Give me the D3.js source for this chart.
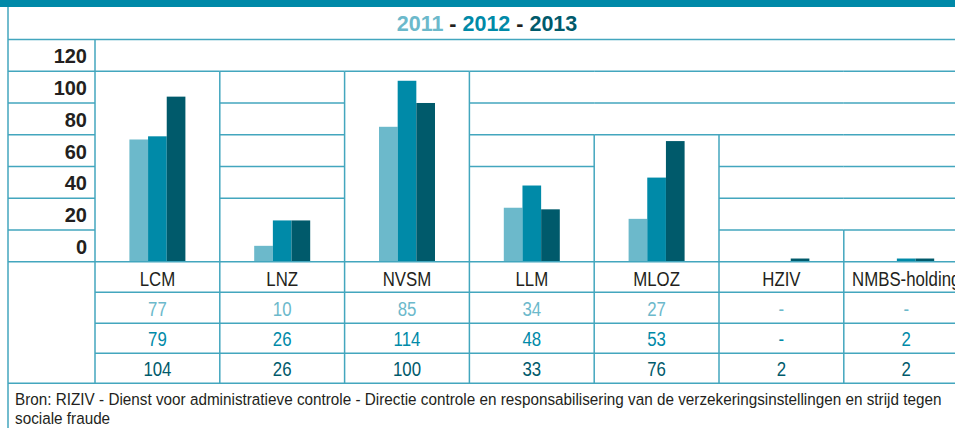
<!DOCTYPE html>
<html>
<head>
<meta charset="utf-8">
<script src="https://cdn.jsdelivr.net/npm/d3@7"></script>
<style>
  html, body { margin: 0; padding: 0; background: #fff; }
  svg { display: block; }
  text { font-family: "Liberation Sans", Arial, sans-serif; }
  .bold { font-weight: bold; }
</style>
</head>
<body>
<svg id="chart" width="955" height="428"></svg>
<script>
// data
const categories = ["LCM", "LNZ", "NVSM", "LLM", "MLOZ", "HZIV", "NMBS-holding"];
const years = ["2011", "2012", "2013"];
const values2011 = [77, 10, 85, 34, 27, null, null];
const values2012 = [79, 26, 114, 48, 53, null, 2];
const values2013 = [104, 26, 100, 33, 76, 2, 2];
const yTicks = [0, 20, 40, 60, 80, 100, 120];
const source = [
    "Bron: RIZIV - Dienst voor administratieve controle - Directie controle en responsabilisering van de verzekeringsinstellingen en strijd tegen",
    "sociale fraude"
];

const series = [values2011, values2012, values2013];
const colors = ["#6cb9cb", "#008aa8", "#005a6b"];
const lineColor = "#43a6be";
const narrow = 0.8; // condensed look, no narrow font installed

const svg = d3.select("#chart");

const left = 8, axisRight = 95, colW = 124.8;
const legendTop = 7, legendBottom = 39.5;
const zeroY = 261.7;
const rowH = (zeroY - legendBottom) / 7;
const tableRows = [zeroY, 292.3, 323.3, 353.3, 383.3];

const x = d3.scaleBand()
    .domain(categories)
    .range([axisRight, axisRight + colW * categories.length]);

const xs = d3.scaleBand()
    .domain(years)
    .range([colW / 2 - 28, colW / 2 + 28]);

const y = d3.scaleLinear()
    .domain([0, 120])
    .range([zeroY, zeroY - 6 * rowH]);

// top band
svg.append("rect")
    .attr("x", 0).attr("y", 0)
    .attr("width", 955).attr("height", legendTop)
    .attr("fill", "#0089a8");

// legend
let legend = svg.append("text")
    .attr("class", "bold")
    .attr("x", 487)
    .attr("y", 31)
    .attr("text-anchor", "middle")
    .style("font-size", "21.5px");
years.forEach((yr, i) => {
    if (i > 0) legend.append("tspan").attr("fill", "#231f20").text(" - ");
    legend.append("tspan").attr("fill", colors[i]).text(yr);
});

// bars
series.forEach((vals, s) => {
    svg.append("g").selectAll("rect")
        .data(categories.map((c, i) => ({ c: c, v: vals[i] })).filter(d => d.v))
        .enter().append("rect")
        .attr("x", d => x(d.c) + xs(years[s]))
        .attr("y", d => y(d.v))
        .attr("width", xs.bandwidth())
        .attr("height", d => zeroY - y(d.v))
        .attr("fill", colors[s]);
});

// grid / table borders
let grid = svg.append("g")
    .attr("stroke", lineColor)
    .attr("stroke-width", 1.5)
    .attr("fill", "none");

function hline(x1, x2, yy) {
    grid.append("line").attr("x1", x1).attr("x2", x2).attr("y1", yy).attr("y2", yy);
}
function vline(xx, y1, y2) {
    grid.append("line").attr("x1", xx).attr("x2", xx).attr("y1", y1).attr("y2", y2);
}

// cells merge where no bar crosses them
const rowsUsed = categories.map((c, i) =>
    Math.ceil(d3.max(series, vals => vals[i] || 0) / 20));

hline(left, 955, legendBottom);
yTicks.forEach((t, j) => {
    hline(left, axisRight, y(t));
    if (j === 0) return;
    categories.forEach((c, i) => {
        if (j >= rowsUsed[i]) hline(x(c), x(c) + colW, y(t));
    });
});
hline(axisRight, 955, zeroY);

categories.forEach((c, i) => {
    if (i === 0) return;
    let k = Math.max(rowsUsed[i - 1], rowsUsed[i]);
    vline(x(c), y(20 * k), tableRows[4]);
});
vline(left, legendTop, 428);
vline(axisRight, legendBottom, tableRows[4]);

tableRows.slice(1, 4).forEach(yy => hline(axisRight, 955, yy));
hline(left, 955, tableRows[4]);

// y labels, sitting in the cell above each grid line
svg.append("g").selectAll("text")
    .data(yTicks)
    .enter().append("text")
    .attr("class", "bold")
    .attr("x", 87)
    .attr("y", d => y(d) - rowH / 2 + 8)
    .attr("text-anchor", "end")
    .attr("fill", "#231f20")
    .style("font-size", "20px")
    .text(d => d);

// category labels
svg.append("g").selectAll("text")
    .data(categories)
    .enter().append("text")
    .attr("transform", d => `translate(${x(d) + colW / 2},285.8) scale(${narrow},1)`)
    .attr("text-anchor", "middle")
    .attr("fill", "#231f20")
    .style("font-size", "21px")
    .text(d => d);

// value rows
const rowBase = [316.2, 346.2, 376];
series.forEach((vals, s) => {
    svg.append("g").selectAll("text")
        .data(categories.map((c, i) => ({ c: c, v: vals[i] })))
        .enter().append("text")
        .attr("transform", d => `translate(${x(d.c) + colW / 2},${rowBase[s]}) scale(${narrow},1)`)
        .attr("text-anchor", "middle")
        .attr("fill", colors[s])
        .style("font-size", "21px")
        .text(d => d.v == null ? "-" : d.v);
});

// source, squeezed to the width it has in the picture
let src = svg.append("g").selectAll("text")
    .data(source)
    .enter().append("text")
    .attr("fill", "#231f20")
    .style("font-size", "17px")
    .text(d => d);
let fit = 927 / src.nodes()[0].getComputedTextLength();
src.attr("transform", (d, i) => `translate(15,${405 + i * 18.5}) scale(${fit},1)`);
</script>
</body>
</html>
